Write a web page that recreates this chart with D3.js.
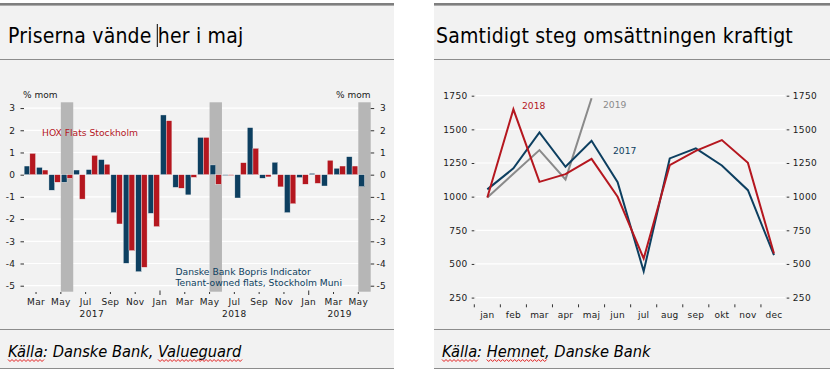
<!DOCTYPE html>
<html>
<head>
<meta charset="utf-8">
<script src="https://cdn.jsdelivr.net/npm/d3@7"></script>
<style>
  body { margin: 0; background: #fff; }
  text { font-family: "DejaVu Sans", sans-serif; fill: #1a1a1a; }
  .title { font-family: "DejaVu Sans Condensed", "DejaVu Sans", sans-serif; font-stretch: condensed; font-size: 21px; letter-spacing: 0.2px; fill: #000; }
  .source { font-family: "DejaVu Sans Condensed", "DejaVu Sans", sans-serif; font-stretch: condensed; font-style: italic; font-size: 16.3px; fill: #000; }
  .tick text { font-size: 9px; letter-spacing: 0.4px; }
  .note { font-size: 9.2px; }
</style>
</head>
<body>
<svg id="chart" width="830" height="372"></svg>
<script>
// --- left chart: monthly price change, % m/m ---
const months = ['2017-02','2017-03','2017-04','2017-05','2017-06','2017-07','2017-08','2017-09','2017-10','2017-11','2017-12',
                '2018-01','2018-02','2018-03','2018-04','2018-05','2018-06','2018-07','2018-08','2018-09','2018-10','2018-11','2018-12',
                '2019-01','2019-02','2019-03','2019-04','2019-05'];
const bopris = [0.39, 0.33, -0.70, -0.34, 0.21, 0.23, 0.68, -1.71, -3.99, -4.37, -1.74,
                2.69, -0.57, -0.91, 1.68, 0.44, -0.03, -1.05, 2.12, -0.16, 0.56, -1.71, -0.13,
                0.06, -0.51, 0.29, 0.81, -0.54];
const hox = [0.96, 0.21, -0.34, -0.16, -1.10, 0.87, 0.47, -2.22, -3.42, -4.17, -2.34,
             2.43, -0.61, -0.12, 1.68, -0.43, -0.03, 0.54, 1.19, -0.10, -0.55, -1.31, -0.43,
             -0.39, 0.65, 0.39, 0.39, null];
const tickMonths = ['2017-03','2017-05','2017-07','2017-09','2017-11','2018-01','2018-03','2018-05',
                    '2018-07','2018-09','2018-11','2019-01','2019-03','2019-05'];
const shadeMonths = ['2017-05','2018-05','2019-05'];
const years = ['2017','2018','2019'];
const pctTicks = [-5, -4, -3, -2, -1, 0, 1, 2, 3];

// --- right chart: number sold per month ---
const monthsSv = ['jan','feb','mar','apr','maj','jun','jul','aug','sep','okt','nov','dec'];
const sales2017 = [1054, 1210, 1478, 1222, 1415, 1108, 446, 1284, 1359, 1232, 1048, 565];
const sales2018 = [994, 1649, 1110, 1167, 1281, 999, 540, 1234, 1340, 1420, 1251, 577];
const sales2019 = [994, 1170, 1346, 1128, 1731];
const salesTicks = [250, 500, 750, 1000, 1250, 1500, 1750];

const blue = '#0d3f60', red = '#b5171f', grey = '#8a8a8a';

const svg = d3.select('#chart');

// panels, rules, titles, sources
function panel(x0, x1, tx, sx, title, source, underline) {
  svg.append('rect').attr('x', x0).attr('y', 3).attr('width', x1 - x0).attr('height', 366).attr('fill', '#f2f2f2');
  svg.append('rect').attr('x', x0).attr('y', 3).attr('width', x1 - x0).attr('height', 2.6).attr('fill', '#7f7f7f');
  [59.5, 329.5, 368.5].forEach(y => {
    svg.append('line').attr('x1', x0).attr('x2', x1).attr('y1', y).attr('y2', y)
       .attr('stroke', '#8c8c8c').attr('stroke-width', 1);
  });
  const t = svg.append('text').attr('class', 'title').attr('x', tx).attr('y', 42.5).text(title);
  const src = svg.append('text').attr('class', 'source').attr('x', sx).attr('y', 356.5).text(source);
  // spell-check squiggles under some words
  underline.forEach(w => {
    const i = source.indexOf(w);
    const node = src.node();
    const a = node.getStartPositionOfChar(i).x;
    const b = node.getEndPositionOfChar(i + w.length - 1).x;
    let p = `M${a},359.5`;
    for (let xx = a, k = 0; xx < b; xx += 2, k++) p += `L${xx + 2},${k % 2 ? 359.5 : 361.5}`;
    svg.append('path').attr('d', p).attr('fill', 'none').attr('stroke', '#e31b1b').attr('stroke-width', 1);
  });
  return t;
}
const t1 = panel(0, 394, 8, 8, 'Priserna vände her i maj', 'Källa: Danske Bank, Valueguard', ['Källa', 'Valueguard']);
panel(434, 830, 436, 442, 'Samtidigt steg omsättningen kraftigt', 'Källa: Hemnet, Danske Bank', ['Källa', 'Hemnet']);

// text cursor in the left title, just before "her"
const cx = t1.node().getStartPositionOfChar('Priserna vände her i maj'.indexOf('her')).x - 0.5;
svg.append('line').attr('x1', cx).attr('x2', cx).attr('y1', 24).attr('y2', 47).attr('stroke', '#000');

// ================= left chart =================
const x = d3.scaleBand().domain(months).range([23.65, 370.7]).paddingInner(0.08).paddingOuter(0.04);
const cell = m => x(m) - x.step() * 0.04;
const xs = d3.scaleBand().domain(['bopris', 'hox']).range([0, x.bandwidth()]);
const y = d3.scaleLinear().domain([-5.27, 3.26]).range([291.7, 102.3]);

const gl = svg.append('g');
gl.selectAll('.grid').data(pctTicks).enter().append('line')
  .attr('x1', 23.65).attr('x2', 370.7).attr('y1', d => y(d)).attr('y2', d => y(d))
  .attr('stroke', '#fff').attr('stroke-width', 1.2);

gl.selectAll('.shade').data(shadeMonths).enter().append('rect')
  .attr('x', d => cell(d)).attr('width', x.step())
  .attr('y', y(3.26)).attr('height', y(-5.27) - y(3.26)).attr('fill', '#b6b6b6');

const barData = [];
months.forEach((m, i) => {
  barData.push({m, s: 'bopris', v: bopris[i]});
  if (hox[i] !== null) barData.push({m, s: 'hox', v: hox[i]});
});
gl.selectAll('.bar').data(barData).enter().append('rect')
  .attr('x', d => x(d.m) + xs(d.s)).attr('width', xs.bandwidth())
  .attr('y', d => y(Math.max(0, d.v))).attr('height', d => Math.max(0.8, Math.abs(y(d.v) - y(0))))
  .attr('fill', d => d.s === 'bopris' ? blue : red)
  .attr('stroke', '#f2f2f2').attr('stroke-width', 0.4);

const yAxisL = d3.axisLeft(y).tickValues(pctTicks).tickSize(3.5).tickPadding(5).tickFormat(d => String(d));
const yAxisR = d3.axisRight(y).tickValues(pctTicks).tickSize(3.5).tickPadding(5).tickFormat(d => String(d));
gl.append('g').attr('transform', 'translate(24,0)').call(yAxisL);
gl.append('g').attr('transform', 'translate(370.7,0)').call(yAxisR)
  .selectAll('text').attr('text-anchor', 'end').attr('x', 15.5);

// x axis: ticks at the start of each labelled month
const xt = gl.append('g');
xt.selectAll('line').data(tickMonths).enter().append('line')
  .attr('x1', d => cell(d)).attr('x2', d => cell(d))
  .attr('y1', d => d.endsWith('-01') ? 290.5 : 292).attr('y2', d => d.endsWith('-01') ? 295 : 294)
  .attr('stroke', '#333');
const parse = d3.timeParse('%Y-%m');
xt.selectAll('text').data(tickMonths).enter().append('text')
  .attr('x', d => cell(d)).attr('y', 305).attr('text-anchor', 'middle')
  .attr('font-size', 9).attr('letter-spacing', 0.3)
  .text(d => d3.timeFormat('%b')(parse(d)));
gl.selectAll('.year').data(years).enter().append('text')
  .attr('text-anchor', 'middle').attr('y', 317).attr('font-size', 9).attr('letter-spacing', 0.4)
  .attr('x', yr => {
    const ms = months.filter(m => m.startsWith(yr));
    return (cell(ms[0]) + cell(ms[ms.length - 1]) + x.step()) / 2;
  })
  .text(d => d);

gl.append('text').attr('x', 23).attr('y', 98).attr('font-size', 9).text('% mom');
gl.append('text').attr('x', 336).attr('y', 98).attr('font-size', 9).text('% mom');
gl.append('text').attr('class', 'note').attr('x', 42).attr('y', 135.5).style('fill', red).text('HOX Flats Stockholm');
gl.append('text').attr('class', 'note').attr('x', 175.5).attr('y', 275).style('fill', blue).text('Danske Bank Bopris Indicator');
gl.append('text').attr('class', 'note').attr('x', 175.5).attr('y', 286).style('fill', blue).text('Tenant-owned flats, Stockholm Muni');

// ================= right chart =================
const xr = d3.scaleBand().domain(monthsSv).range([474.3, 787]);
const yr = d3.scaleLinear().domain([250, 1750]).range([297.6, 95.7]);
const gr = svg.append('g');

gr.selectAll('.grid').data(salesTicks).enter().append('line')
  .attr('x1', 476).attr('x2', 785).attr('y1', d => yr(d)).attr('y2', d => yr(d))
  .attr('stroke', '#fff').attr('stroke-width', 1.2);

gr.append('g').attr('transform', 'translate(474.3,0)')
  .call(d3.axisLeft(yr).tickValues(salesTicks).tickSize(2.6).tickPadding(4).tickFormat(d => String(d)));
gr.append('g').attr('transform', 'translate(786.7,0)')
  .call(d3.axisRight(yr).tickValues(salesTicks).tickSize(2.6).tickPadding(3.4).tickFormat(d => String(d)));

gr.selectAll('.xtick').data(monthsSv).enter().append('line')
  .attr('x1', d => xr(d)).attr('x2', d => xr(d)).attr('y1', 304.3).attr('y2', 307.3).attr('stroke', '#333');
gr.selectAll('.xlab').data(monthsSv).enter().append('text')
  .attr('x', d => xr(d) + xr.bandwidth() / 2).attr('y', 317.5).attr('text-anchor', 'middle')
  .attr('font-size', 9).attr('letter-spacing', 0.2).text(d => d);

const line = d3.line().x((d, i) => xr(monthsSv[i]) + xr.bandwidth() / 2).y(d => yr(d));
[[sales2019, grey], [sales2017, blue], [sales2018, red]].forEach(([s, c]) => {
  gr.append('path').datum(s).attr('d', line).attr('fill', 'none').attr('stroke', c).attr('stroke-width', 2);
});

gr.append('text').attr('class', 'note').attr('x', 522).attr('y', 109).style('fill', red).text('2018');
gr.append('text').attr('class', 'note').attr('x', 603).attr('y', 108).style('fill', grey).text('2019');
gr.append('text').attr('class', 'note').attr('x', 613).attr('y', 154).style('fill', blue).text('2017');

svg.selectAll('.domain').remove();
svg.selectAll('.tick line').attr('stroke', '#333');
svg.selectAll('.tick text').attr('fill', '#1a1a1a');
</script>
</body>
</html>
